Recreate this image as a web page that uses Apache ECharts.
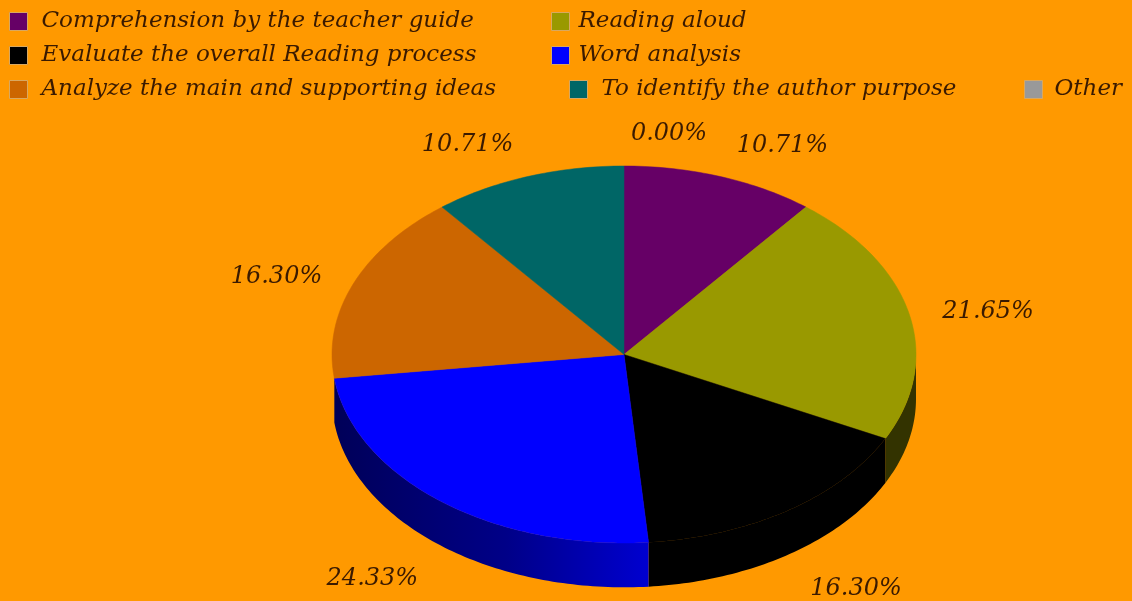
<!DOCTYPE html>
<html><head><meta charset="utf-8">
<style>html,body{margin:0;padding:0;background:#ff9900}#c{width:1132px;height:601px}</style>
<script src="https://cdn.jsdelivr.net/npm/echarts@6/dist/echarts.min.js"></script>
</head><body><div id="c"></div>
<script>
const categories = ["Comprehension by the teacher guide","Reading aloud","Evaluate the overall Reading process","Word analysis","Analyze the main and supporting ideas","To identify the author purpose","Other"];
const shares = [10.71,21.65,16.30,24.33,16.30,10.71,0.00];

const topColors = ["#660066","#999900","#000000","#0000ff","#cc6600","#006666","#999999"];
const blueSide = new echarts.graphic.LinearGradient(0,0,1,0,[{offset:0,color:"#000058"},{offset:0.55,color:"#000088"},{offset:1,color:"#0000d0"}]);
const sideColors = [null,"#333300","#000000",blueSide,null,null,null];
const legendSpots = [[9,10],[551,10],[9,44],[551,44],[9,78],[569,78],[1024,78]];
const legendTextGaps = [9,4,9,4,9,9,7];
const labelNudges = [[62,-31],[79,-2],[68,78],[-68,78],[-77,-7],[-60,-32],[45,-32]];
const DEPTH = 0.235;
const FONT = "DejaVu Serif";
const INK = "#3a1a00";

function arcPts(api, a0, a1, drop){
  const pts=[]; const n=Math.max(1,Math.ceil((a1-a0)/1));
  for(let i=0;i<=n;i++){
    const a=(a0+(a1-a0)*i/n)*Math.PI/180;
    pts.push(api.coord([Math.sin(a), Math.cos(a)-drop]));
  }
  return pts;
}
let cum=0;
const series = categories.map((name,idx)=>{
  const start=cum; cum+=shares[idx];
  return {
    name, type:"custom", coordinateSystem:"cartesian2d", clip:false,
    itemStyle:{color:topColors[idx]},
    encode:{x:0,y:1},
    data:[[0,0,shares[idx],start]],
    renderItem(params,api){
      const sh=api.value(2), st=api.value(3);
      const a0=st*3.6, a1=(st+sh)*3.6;
      const children=[];
      const lo=Math.max(a0,90), hi=Math.min(a1,270);
      if(hi>lo && sideColors[idx]){
        const upper=arcPts(api,lo,hi,0), lower=arcPts(api,lo,hi,DEPTH).reverse();
        children.push({type:"polygon",shape:{points:upper.concat(lower)},style:{fill:sideColors[idx]}});
      }
      if(sh>0){
        const c=api.coord([0,0]);
        children.push({type:"polygon",shape:{points:[c].concat(arcPts(api,a0,a1,0))},style:{fill:topColors[idx],stroke:topColors[idx],lineWidth:0.5}});
      }
      const mid=(a0+a1)/2*Math.PI/180;
      const p=api.coord([Math.sin(mid),Math.cos(mid)]);
      children.push({type:"text",z2:10,style:{
        text:sh.toFixed(2)+"%",x:p[0]+labelNudges[idx][0],y:p[1]+labelNudges[idx][1],
        align:"center",verticalAlign:"middle",fill:INK,font:"italic 24px '"+FONT+"'"}});
      return {type:"group",children};
    }
  };
});
const legends = categories.map((name,idx)=>({
  show:true,orient:"horizontal",left:legendSpots[idx][0],top:legendSpots[idx][1],padding:0,
  itemWidth:18,itemHeight:18,selectedMode:false,data:[{name,icon:"rect"}],
  itemStyle:{borderColor:"#d9a860",borderWidth:1},
  textStyle:{fontFamily:FONT,fontStyle:"italic",fontSize:23,color:INK,padding:[0,0,0,legendTextGaps[idx]]}
}));
const chart=echarts.init(document.getElementById("c"),null,{renderer:"canvas"});
chart.setOption({
  backgroundColor:"#ff9900",animation:false,tooltip:{show:false},
  legend:legends,
  grid:{left:332,top:166,width:584,height:377,containLabel:false},
  xAxis:{type:"value",min:-1,max:1,show:false},
  yAxis:{type:"value",min:-1,max:1,show:false},
  series
});
</script></body></html>
